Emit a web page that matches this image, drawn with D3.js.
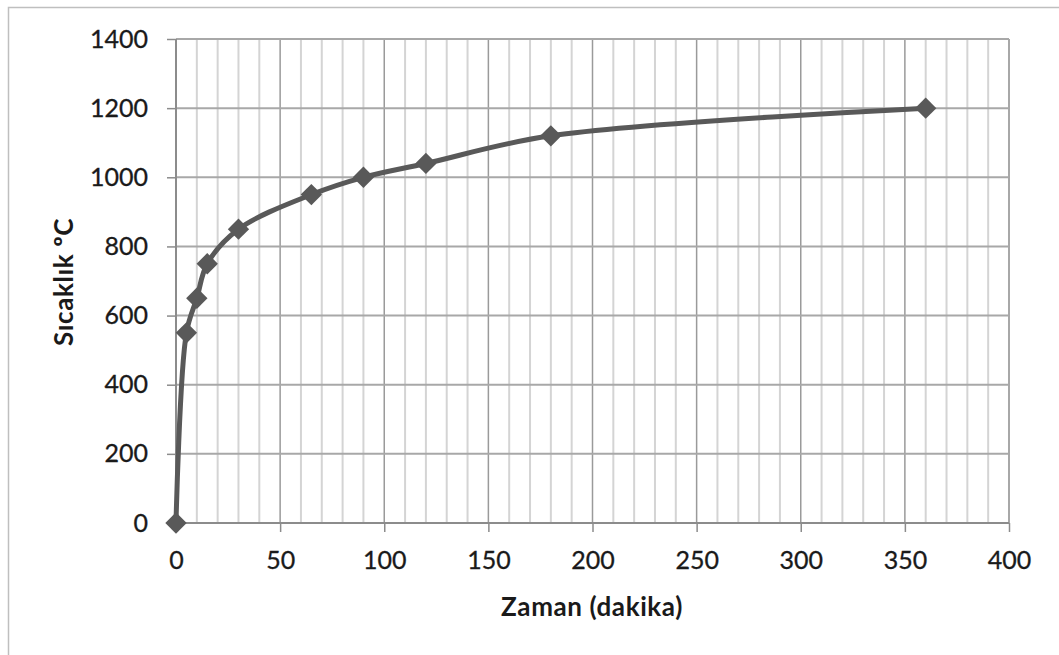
<!DOCTYPE html>
<html><head><meta charset="utf-8">
<script src="https://cdn.jsdelivr.net/npm/d3@7/dist/d3.min.js"></script>
<style>
html,body{margin:0;padding:0;background:#fff;}
svg{display:block;}
text{font-family:Lato,"Open Sans",sans-serif;fill:#1a1a1a;}
</style></head>
<body>
<svg id="c" width="1059" height="655"></svg>
<script>
const timeMin = [0, 5, 10, 15, 30, 65, 90, 120, 180, 360];
const tempC = [0, 550, 650, 750, 850, 950, 1000, 1040, 1120, 1200];
const xTicks = [0, 50, 100, 150, 200, 250, 300, 350, 400];
const yTicks = [0, 200, 400, 600, 800, 1000, 1200, 1400];
const xTitle = "Zaman (dakika)";
const yTitle = "Sıcaklık ºC";

const svg = d3.select("#c");
const L = 176, R = 1009, T = 39, B = 523;
const x = d3.scaleLinear().domain([0, 400]).range([L, R]);
const y = d3.scaleLinear().domain([0, 1400]).range([B, T]);

// outer frame
svg.append("rect").attr("x", 8.5).attr("y", 7.5).attr("width", 1100).attr("height", 700)
  .attr("fill", "none").attr("stroke", "#bfbfbf").attr("stroke-width", 1.5);

// minor vertical gridlines
const minor = d3.range(10, 400, 10).filter(v => v % 50 !== 0);
svg.append("g").selectAll("line").data(minor).join("line")
  .attr("x1", d => x(d)).attr("x2", d => x(d)).attr("y1", T).attr("y2", B)
  .attr("stroke", "#d4d4d4").attr("stroke-width", 2);
// major vertical gridlines
svg.append("g").selectAll("line").data(xTicks.filter(v => v > 0 && v < 400)).join("line")
  .attr("x1", d => x(d)).attr("x2", d => x(d)).attr("y1", T).attr("y2", B)
  .attr("stroke", "#9a9a9a").attr("stroke-width", 1.5);
// horizontal gridlines
svg.append("g").selectAll("line").data(yTicks.filter(v => v > 0)).join("line")
  .attr("x1", L).attr("x2", R).attr("y1", d => y(d)).attr("y2", d => y(d))
  .attr("stroke", "#a8a8a8").attr("stroke-width", 2);
// right border
svg.append("line").attr("x1", R).attr("x2", R).attr("y1", T).attr("y2", B)
  .attr("stroke", "#a8a8a8").attr("stroke-width", 2);

// axes
const xAxis = d3.axisBottom(x).tickValues(xTicks).tickSize(9).tickPadding(19).tickFormat(d3.format("d"));
const gx = svg.append("g").attr("transform", `translate(0,${B})`).call(xAxis);
const yAxis = d3.axisLeft(y).tickValues(yTicks).tickSize(9).tickPadding(19).tickFormat(d3.format("d"));
const gy = svg.append("g").attr("transform", `translate(${L},0)`).call(yAxis);
[gx, gy].forEach(g => {
  g.select(".domain").attr("stroke", "#8c8c8c").attr("stroke-width", 2);
  g.selectAll(".tick line").attr("stroke", "#8c8c8c").attr("stroke-width", 1.5);
  g.selectAll(".tick text").style("font-family", "Lato, 'Open Sans', sans-serif")
    .style("font-size", "25px").attr("fill", "#1a1a1a")
    .attr("stroke", "#1a1a1a").attr("stroke-width", 0.3);
});
gy.select(".domain").attr("d", `M0,${T}V${B}`);
gx.select(".domain").attr("d", `M${L},0H${R}`);

// line
const pts = timeMin.map((t, i) => [t, tempC[i]]);
svg.append("path").datum(pts)
  .attr("d", d3.line().x(d => x(d[0])).y(d => y(d[1])).curve(d3.curveCatmullRom.alpha(0.5)))
  .attr("fill", "none").attr("stroke", "#595959").attr("stroke-width", 5).attr("stroke-linejoin", "round");
// diamonds
svg.append("g").selectAll("path").data(pts).join("path")
  .attr("transform", d => `translate(${x(d[0])},${y(d[1])})`)
  .attr("d", d3.symbol(d3.symbolDiamond2, 290)())
  .attr("fill", "#595959");

// titles
svg.append("text").attr("x", 592).attr("y", 616).attr("text-anchor", "middle")
  .style("font-weight", "bold").style("font-size", "26px").style("letter-spacing", "0.6px").text(xTitle);
svg.append("text").attr("transform", "translate(73,282) rotate(-90)").attr("text-anchor", "middle")
  .style("font-weight", "bold").style("font-size", "26px").style("letter-spacing", "0.6px").text(yTitle);
</script>
</body></html>
